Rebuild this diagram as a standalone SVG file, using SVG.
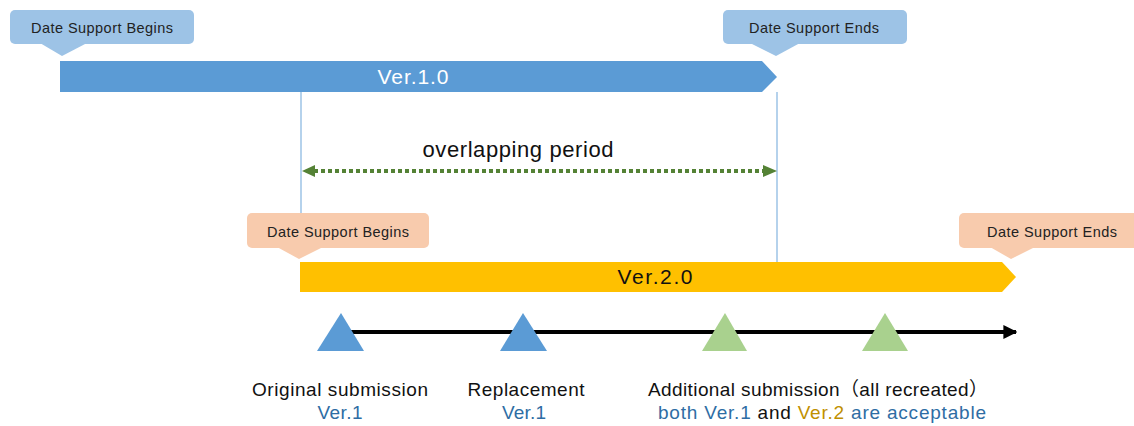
<svg xmlns="http://www.w3.org/2000/svg" width="1134" height="426" viewBox="0 0 1134 426">
<style>
text{font-family:"Liberation Sans","Noto Sans CJK JP",Arial,sans-serif}
.cb{fill:#9DC3E6}
.cs{fill:#F8CBAD}
.ct{font-size:14.5px;fill:#222;text-anchor:middle}
.lbl{font-size:19px;fill:#111;text-anchor:middle}
.v1{fill:#2E6DA4}
.v2{fill:#BF9000}
.vl{stroke:#9DC3E6;stroke-width:1.5;fill:none}
.tb{fill:#5B9BD5}
.tg{fill:#A9D18E}
</style>
<defs>
<marker id="ba" viewBox="0 0 10 10" refX="9" refY="5" markerWidth="14" markerHeight="14" markerUnits="userSpaceOnUse" orient="auto"><path d="M0,0 L10,5 L0,10 Z" fill="#000"/></marker>
</defs>
<g id="connectors">
<line class="vl" x1="301" y1="92" x2="301" y2="214"/>
<line class="vl" x1="777" y1="92" x2="777" y2="263"/>
<line x1="314" y1="171" x2="766" y2="171" stroke="#548235" stroke-width="4" stroke-dasharray="4 3"/>
<path d="M302,171 L315,165 L315,177 Z" fill="#548235"/>
<path d="M777,171 L763,165 L763,177 Z" fill="#548235"/>
<line x1="345" y1="332" x2="1016" y2="332" stroke="#000" stroke-width="4" marker-end="url(#ba)"/>
</g>
<g id="ver1-bar">
<path d="M60,61 L762,61 L777,77 L762,92 L60,92 Z" fill="#5B9BD5"/>
<text x="413" y="84" font-size="21" fill="#fff" text-anchor="middle" textLength="71" lengthAdjust="spacing">Ver.1.0</text>
</g>
<g id="ver2-bar">
<path d="M300,262 L1002,262 L1016,277 L1002,292 L300,292 Z" fill="#FFC000"/>
<text x="655" y="284" font-size="21" fill="#111" text-anchor="middle" textLength="75" lengthAdjust="spacing">Ver.2.0</text>
</g>
<g id="callout-v1-begin">
<rect class="cb" x="10" y="10" width="184" height="34" rx="5"/>
<path class="cb" d="M40,43 L87,43 L62,56 Z"/>
<text class="ct" x="102" y="33" textLength="142" lengthAdjust="spacing">Date Support Begins</text>
</g>
<g id="callout-v1-end">
<rect class="cb" x="723" y="10" width="184" height="34" rx="5"/>
<path class="cb" d="M750,43 L800,43 L776,56 Z"/>
<text class="ct" x="814" y="33" textLength="130" lengthAdjust="spacing">Date Support Ends</text>
</g>
<g id="callout-v2-begin">
<rect class="cs" x="247" y="213" width="182" height="35" rx="5"/>
<path class="cs" d="M277,247 L323,247 L299,259 Z"/>
<text class="ct" x="338" y="237" textLength="142" lengthAdjust="spacing">Date Support Begins</text>
</g>
<g id="callout-v2-end">
<rect class="cs" x="959" y="213" width="184" height="35" rx="5"/>
<path class="cs" d="M990,247 L1035,247 L1011,259 Z"/>
<text class="ct" x="1052" y="237" textLength="130" lengthAdjust="spacing">Date Support Ends</text>
</g>
<g id="overlap-label">
<text x="518" y="157" font-size="22" fill="#111" text-anchor="middle" textLength="191" lengthAdjust="spacing">overlapping period</text>
</g>
<g id="m-original">
<path class="tb" d="M317,351 L341,313 L364,351 Z"/>
<text class="lbl" x="340" y="396" textLength="176" lengthAdjust="spacing">Original submission</text>
<text class="lbl v1" x="340" y="419" textLength="45" lengthAdjust="spacing">Ver.1</text>
</g>
<g id="m-replacement">
<path class="tb" d="M500,351 L523,313 L547,351 Z"/>
<text class="lbl" x="526" y="396" textLength="117" lengthAdjust="spacing">Replacement</text>
<text class="lbl v1" x="524" y="419" textLength="44" lengthAdjust="spacing">Ver.1</text>
</g>
<g id="m-additional1">
<path class="tg" d="M702,351 L725,313 L747,351 Z"/>
</g>
<g id="m-additional2">
<path class="tg" d="M862,351 L885,313 L908,351 Z"/>
</g>
<g id="additional-label">
<text class="lbl" x="818" y="396" textLength="340" lengthAdjust="spacing">Additional submission（all recreated）</text>
<text class="lbl" x="822" y="419" textLength="328" lengthAdjust="spacing"><tspan class="v1">both Ver.1 </tspan><tspan>and </tspan><tspan class="v2">Ver.2 </tspan><tspan class="v1">are acceptable</tspan></text>
</g>
</svg>
